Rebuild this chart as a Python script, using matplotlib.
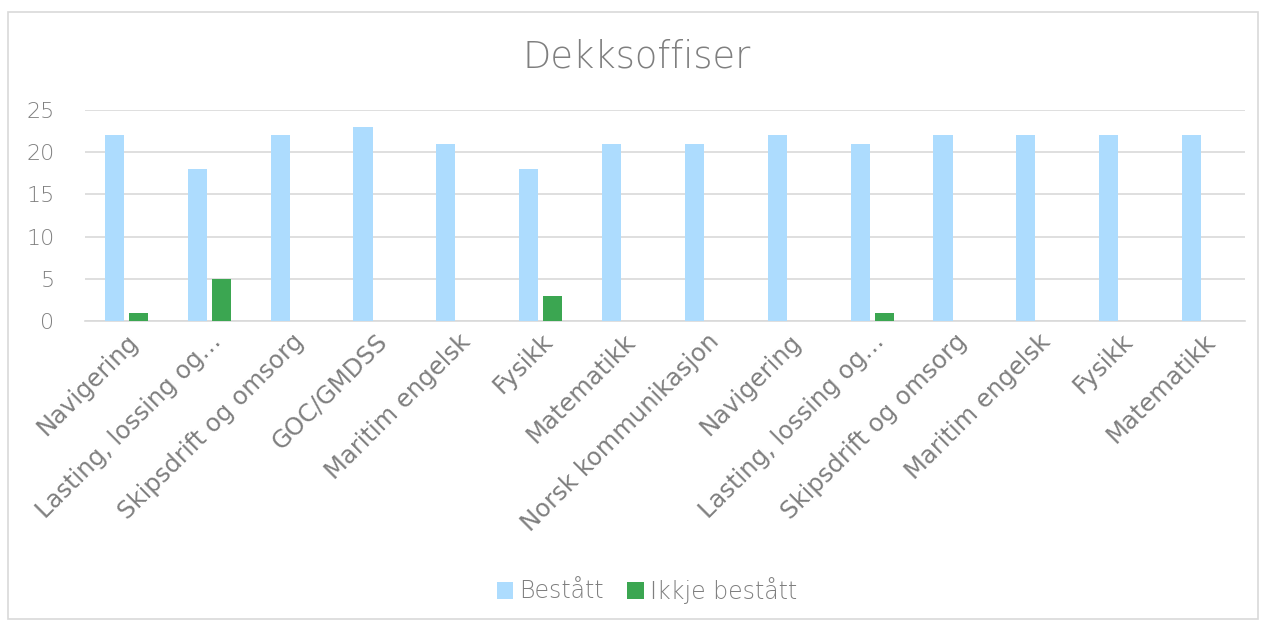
import numpy as np
import matplotlib.pyplot as plt
from matplotlib.patches import Rectangle

categories = [
    "Navigering", "Lasting, lossing og…", "Skipsdrift og omsorg", "GOC/GMDSS",
    "Maritim engelsk", "Fysikk", "Matematikk", "Norsk kommunikasjon",
    "Navigering", "Lasting, lossing og…", "Skipsdrift og omsorg",
    "Maritim engelsk", "Fysikk", "Matematikk",
]
bestatt = [22, 18, 22, 23, 21, 18, 21, 21, 22, 21, 22, 22, 22, 22]
ikkje_bestatt = [1, 5, 0, 0, 0, 3, 0, 0, 0, 1, 0, 0, 0, 0]

BLUE = "#addcfe"
GREEN = "#3ba651"
GREY = "#7f7f7f"
THIN = ["DejaVu Sans"]

fig = plt.figure(figsize=(12.67, 6.23), dpi=100)
ax = fig.add_axes([85 / 1267, 1 - 321 / 623, (1245 - 85) / 1267, (321 - 110) / 623])

# light frame around the whole chart
fig.patches.append(Rectangle((8 / 1267, 4 / 623), 1250 / 1267, 607 / 623,
                             transform=fig.transFigure, fill=False,
                             edgecolor="#d9d9d9", linewidth=1.2))

x = np.arange(len(categories))
w = 0.23
ax.bar(x - 0.145, bestatt, w, color=BLUE, label="Bestått", zorder=3)
ax.bar(x + 0.145, ikkje_bestatt, w, color=GREEN, label="Ikkje bestått", zorder=3)

ax.set_xlim(-0.5, len(categories) - 0.5)
ax.set_ylim(0, 25)
ax.set_yticks(range(0, 26, 5))
ax.yaxis.grid(True, color="#d9d9d9", linewidth=1.2, zorder=0)
ax.set_axisbelow(True)
for s in ["top", "right", "left"]:
    ax.spines[s].set_visible(False)
ax.spines["bottom"].set_color("#d9d9d9")
ax.spines["bottom"].set_linewidth(1.2)
ax.tick_params(length=0)
ax.tick_params(axis="y", labelsize=16, labelcolor=GREY, pad=22)

ax.set_xticks(x)
ax.set_xticklabels(categories, rotation=45, ha="right", rotation_mode="anchor",
                   fontsize=17.5, color=GREY, family="DejaVu Sans")
ax.tick_params(axis="x", pad=6)
for lbl in ax.get_yticklabels():
    lbl.set_family(THIN)
    lbl.set_fontweight("light")

fig.text(0.5 + 3 / 1267, 1 - 57 / 623, "Dekksoffiser", ha="center", va="center",
         fontsize=26.5, color=GREY, family=THIN, fontweight="light")

fig.legend(loc="center", bbox_to_anchor=(647 / 1267, 1 - 590 / 623), ncol=2,
           frameon=False, labelcolor=GREY, handlelength=0.7,
           handleheight=0.7, handletextpad=0.25, columnspacing=1.0,
           prop={"family": THIN, "weight": "light", "size": 17})

fig.savefig("out.png", dpi=100)
